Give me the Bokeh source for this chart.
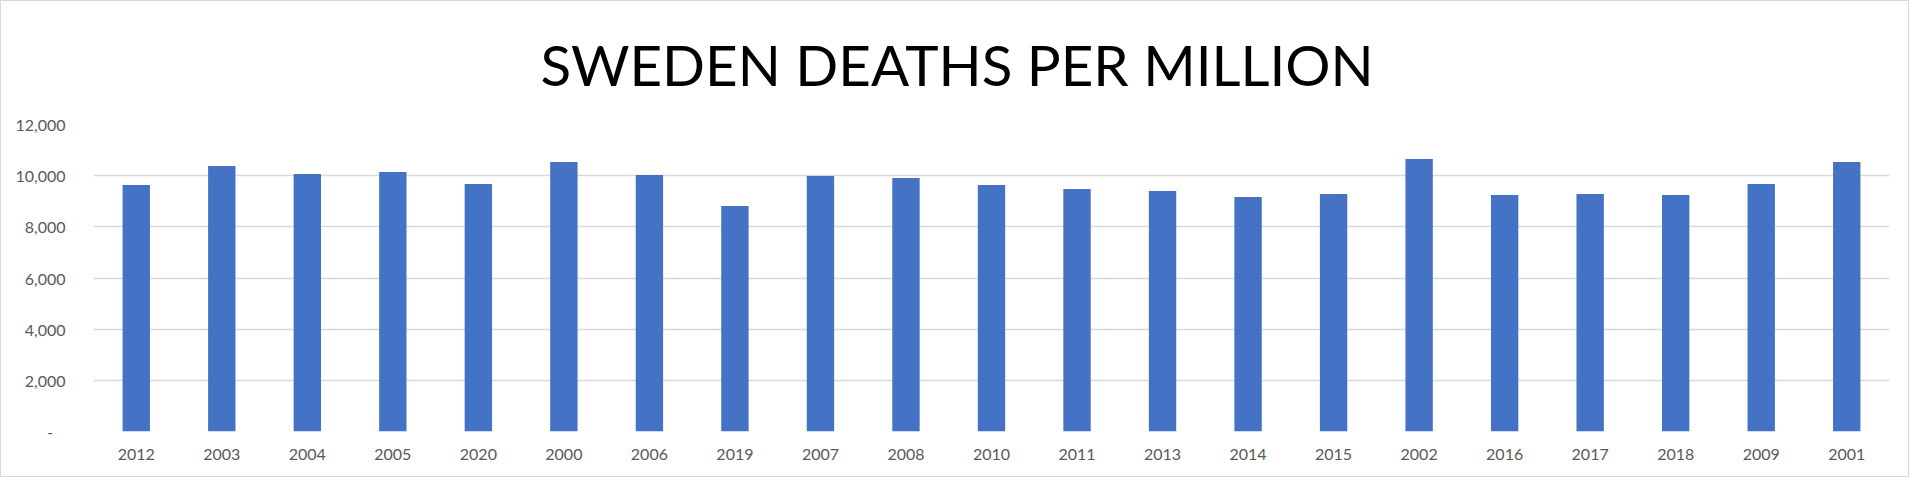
from bokeh.plotting import figure
from bokeh.models import FactorRange, Range1d, FixedTicker, CustomJSTickFormatter
from bokeh.embed import file_html
from bokeh.resources import INLINE

years = ["2012", "2003", "2004", "2005", "2020", "2000", "2006", "2019", "2007", "2008",
         "2010", "2011", "2013", "2014", "2015", "2002", "2016", "2017", "2018", "2009", "2001"]
deaths = [9635, 10378, 10065, 10143, 9674, 10535, 10026, 8813, 9987, 9909,
          9635, 9478, 9400, 9165, 9283, 10652, 9244, 9283, 9244, 9674, 10535]
y_ticks = [0, 2000, 4000, 6000, 8000, 10000, 12000]
title_text = "SWEDEN DEATHS PER MILLION"

p = figure(width=1909, height=477, output_backend="svg", toolbar_location=None,
           x_range=FactorRange(factors=years, range_padding=0),
           y_range=Range1d(0, 12000),
           min_border_left=92, min_border_right=21, min_border_top=123, min_border_bottom=47)
p.styles = {"border": "1px solid #d9d9d9"}

p.vbar(x=years, top=deaths, width=0.32, color="#4472C4", line_color=None)

p.outline_line_color = None
p.background_fill_color = "white"
p.border_fill_color = "white"

p.xgrid.grid_line_color = None
p.ygrid.grid_line_color = "#d9d9d9"
p.ygrid.grid_line_width = 1.5

p.yaxis.ticker = FixedTicker(ticks=y_ticks)
p.yaxis.formatter = CustomJSTickFormatter(code="""
    if (tick == 0) { return "-\u00a0\u00a0\u00a0"; }
    return tick.toLocaleString('en-US');
""")
for ax in (p.xaxis[0], p.yaxis[0]):
    ax.axis_line_color = None
    ax.major_tick_line_color = None
    ax.minor_tick_line_color = None
    ax.major_label_text_font = "Lato"
    ax.major_label_text_font_size = "16px"
    ax.major_label_text_color = "#595959"
p.yaxis.major_label_standoff = 22
p.xaxis.major_label_standoff = 11

p.title.text = title_text
p.title.align = "left"
p.title.offset = 447
p.title.text_font = "Lato"
p.title.text_font_size = "56.5px"
p.title.text_font_style = "normal"
p.title.text_color = "#000000"
p.title.standoff = 53

open("out.html", "w").write(file_html(p, INLINE))
